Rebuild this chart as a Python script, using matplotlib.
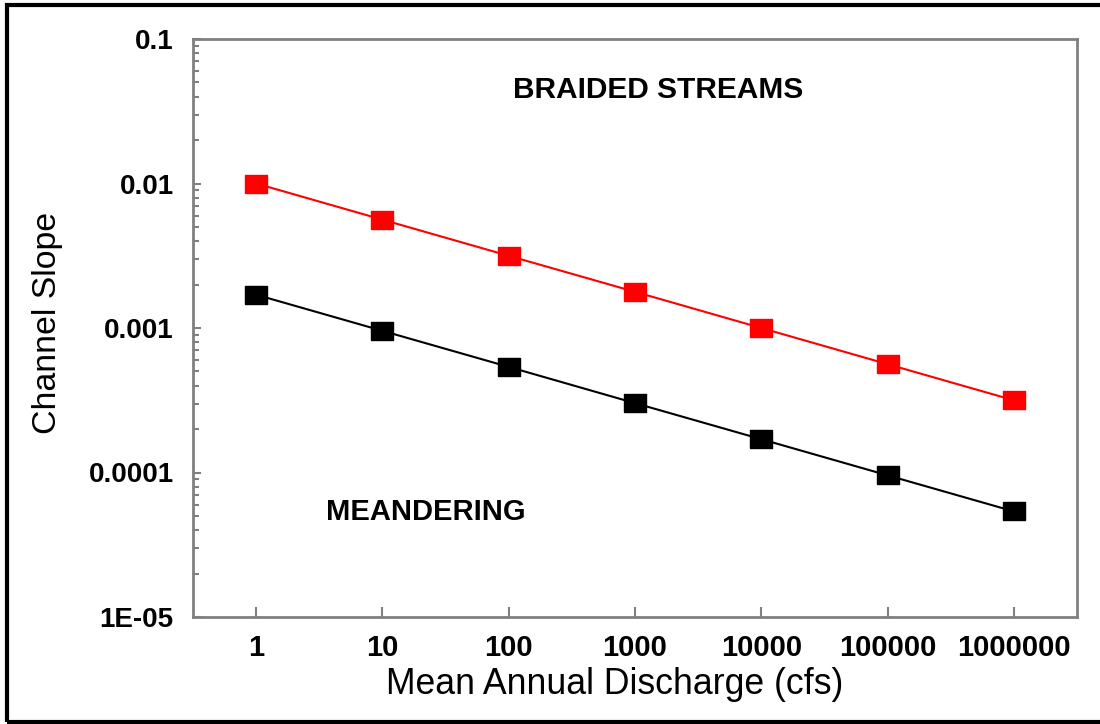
import matplotlib
matplotlib.use("Agg")
import matplotlib.pyplot as plt
from matplotlib.patches import Rectangle
from matplotlib.ticker import LogLocator, NullFormatter, FixedLocator

# Mean annual discharge categories (cfs)
discharge_labels = ["1", "10", "100", "1000", "10000", "100000", "1000000"]

# Channel slope thresholds
braided_slope = [0.0100, 0.00562, 0.00316, 0.00178, 0.00100, 0.000562, 0.000316]
meandering_slope = [0.00170, 0.000956, 0.000538, 0.000302, 0.000170, 0.0000956, 0.0000538]

y_ticks = [1e-5, 1e-4, 1e-3, 1e-2, 1e-1]
y_tick_labels = ["1E-05", "0.0001", "0.001", "0.01", "0.1"]

plt.rcParams["font.family"] = ["Liberation Sans", "DejaVu Sans"]

fig = plt.figure(figsize=(11, 7.24), dpi=100)
ax = fig.add_axes([193 / 1100, 1 - 617 / 724, (1077 - 193) / 1100, (617 - 39) / 724])

x = list(range(1, len(discharge_labels) + 1))
rect_marker = [(-1, -0.8), (1, -0.8), (1, 0.8), (-1, 0.8), (-1, -0.8)]

ax.plot(x, braided_slope, color="#ff0000", lw=1.5, marker=rect_marker,
        markersize=15.5, markerfacecolor="#ff0000", markeredgecolor="#ff0000")
ax.plot(x, meandering_slope, color="black", lw=1.5, marker=rect_marker,
        markersize=15.5, markerfacecolor="black", markeredgecolor="black")

ax.set_yscale("log")
ax.set_ylim(1e-5, 1e-1)
ax.set_xlim(0.5, len(discharge_labels) + 0.5)

ax.set_xticks(x)
ax.set_xticklabels(discharge_labels, fontsize=21, fontweight="bold")
ax.yaxis.set_major_locator(FixedLocator(y_ticks))
ax.set_yticklabels(y_tick_labels, fontsize=20, fontweight="bold")
ax.yaxis.set_minor_locator(LogLocator(base=10, subs=range(2, 10), numticks=20))
ax.yaxis.set_minor_formatter(NullFormatter())

frame_color = "#808080"
for side in ax.spines.values():
    side.set_color(frame_color)
    side.set_linewidth(2)

ax.tick_params(axis="x", which="major", direction="in", length=7, width=1.5,
               color=frame_color, pad=12, top=False)
ax.tick_params(axis="y", which="major", direction="in", length=6, width=1.5,
               color=frame_color, pad=14, right=False)
ax.tick_params(axis="y", which="minor", direction="in", length=4, width=1.5,
               color=frame_color, right=False)

ax.set_xlabel("Mean Annual Discharge (cfs)", fontsize=25.7)
ax.xaxis.set_label_coords((615 - 193) / 884, -0.087)
ax.set_ylabel("Channel Slope", fontsize=24.4)
ax.yaxis.set_label_coords(-0.147, (617 - 323) / 578)

ax.text(4.18, 0.0444, "BRAIDED STREAMS", fontsize=21.5, fontweight="bold",
        ha="center", va="center")
ax.text(2.34, 0.0000533, "MEANDERING", fontsize=21, fontweight="bold",
        ha="center", va="center")

# outer frame around the figure
fig.patches.append(Rectangle((7 / 1100, 2 / 724), 1.1, 1 - 7 / 724, transform=fig.transFigure,
                             fill=False, edgecolor="black", linewidth=3))

fig.savefig("out.png", dpi=100)
